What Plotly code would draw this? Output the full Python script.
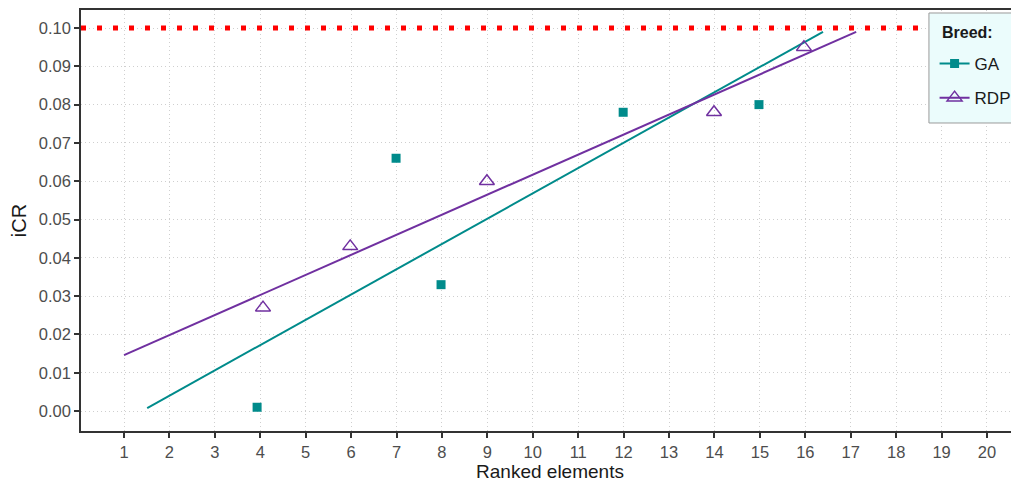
import plotly.graph_objects as go

# ---- data ----
ga_x = [3.93, 6.99, 7.98, 11.99, 14.98]
ga_y = [0.001, 0.066, 0.033, 0.078, 0.080]
rdp_x = [4.06, 5.98, 8.99, 13.99, 15.97]
rdp_y = [0.027, 0.043, 0.060, 0.078, 0.095]
ga_fit_x = [1.51, 16.39]
ga_fit_y = [0.0008, 0.099]
rdp_fit_x = [1.0, 17.12]
rdp_fit_y = [0.0146, 0.099]
threshold = 0.10
x_ticks = list(range(1, 21))
y_ticks = [i / 100 for i in range(0, 11)]

GA_COL = "#008b8b"
RDP_COL = "#7030a0"
FONT = "Liberation Sans, Arial, Helvetica, sans-serif"

fig = go.Figure()

# fit lines
fig.add_trace(go.Scatter(x=ga_fit_x, y=ga_fit_y, mode="lines",
                         line=dict(color=GA_COL, width=2), showlegend=False, hoverinfo="skip"))
fig.add_trace(go.Scatter(x=rdp_fit_x, y=rdp_fit_y, mode="lines",
                         line=dict(color=RDP_COL, width=2), showlegend=False, hoverinfo="skip"))
# points
fig.add_trace(go.Scatter(x=ga_x, y=ga_y, mode="markers", name="GA",
                         marker=dict(symbol="square", size=9, color=GA_COL),
                         showlegend=False))
fig.add_trace(go.Scatter(x=rdp_x, y=rdp_y, mode="markers", name="RDP",
                         marker=dict(symbol="triangle-up-open", size=13, color=RDP_COL,
                                     line=dict(width=1.5, color=RDP_COL)),
                         showlegend=False))
# legend entries
fig.add_trace(go.Scatter(x=[None], y=[None], mode="lines+markers", name="GA",
                         legendgroup="ga",
                         line=dict(color=GA_COL, width=2),
                         marker=dict(symbol="square", size=9, color=GA_COL)))
fig.add_trace(go.Scatter(x=[None], y=[None], mode="lines+markers", name="RDP",
                         legendgroup="rdp",
                         line=dict(color=RDP_COL, width=2),
                         marker=dict(symbol="triangle-up-open", size=13, color=RDP_COL,
                                     line=dict(width=1.5, color=RDP_COL))))

# threshold line
fig.add_shape(type="line", xref="paper", x0=0, x1=1, yref="y", y0=threshold, y1=threshold,
              line=dict(color="#ff0000", width=5, dash="5px,11px"), layer="above")
# legend box
fig.add_shape(type="rect", xref="paper", yref="paper", x0=0.904, x1=1.06, y0=0.7316, y1=0.9929,
              fillcolor="#ebfcfc", line=dict(color="#9a9a9a", width=1), layer="above")
fig.add_annotation(text="<b>Breed:</b>", xref="paper", yref="paper", x=0.9158, y=0.9454,
                   xanchor="left", yanchor="middle", showarrow=False,
                   font=dict(size=16, family=FONT, color="#1a1a1a"))

axis_common = dict(
    showgrid=True, gridcolor="#cfcfcf", griddash="1px,3px", gridwidth=1,
    zeroline=False, showline=True, linecolor="#333333", linewidth=1.5,
    ticks="outside", ticklen=5, tickwidth=1.5, tickcolor="#333333",
    tickfont=dict(family=FONT, size=16.5, color="#4d4d4d"),
    automargin=False,
)

fig.update_layout(
    width=1011, height=475,
    margin=dict(l=73, r=0, t=2, b=52, autoexpand=False),
    paper_bgcolor="white", plot_bgcolor="white",
    font=dict(family=FONT, color="#1a1a1a"),
    xaxis=dict(range=[0.053, 20.705], tickvals=x_ticks, mirror=True,
               title=dict(text="Ranked elements", font=dict(size=19, color="#1a1a1a"), standoff=3),
               **axis_common),
    yaxis=dict(range=[-0.0052, 0.1047], tickvals=y_ticks, tickformat=".2f", mirror=False,
               title=dict(text="iCR", font=dict(size=20, color="#1a1a1a"), standoff=7),
               **axis_common),
    legend=dict(x=0.910, y=0.9145, xanchor="left", yanchor="top",
                bgcolor="rgba(0,0,0,0)", borderwidth=0,
                font=dict(size=17, family=FONT, color="#1a1a1a"),
                tracegroupgap=9, itemwidth=30),
    showlegend=True,
)

fig.write_html("out.html")
